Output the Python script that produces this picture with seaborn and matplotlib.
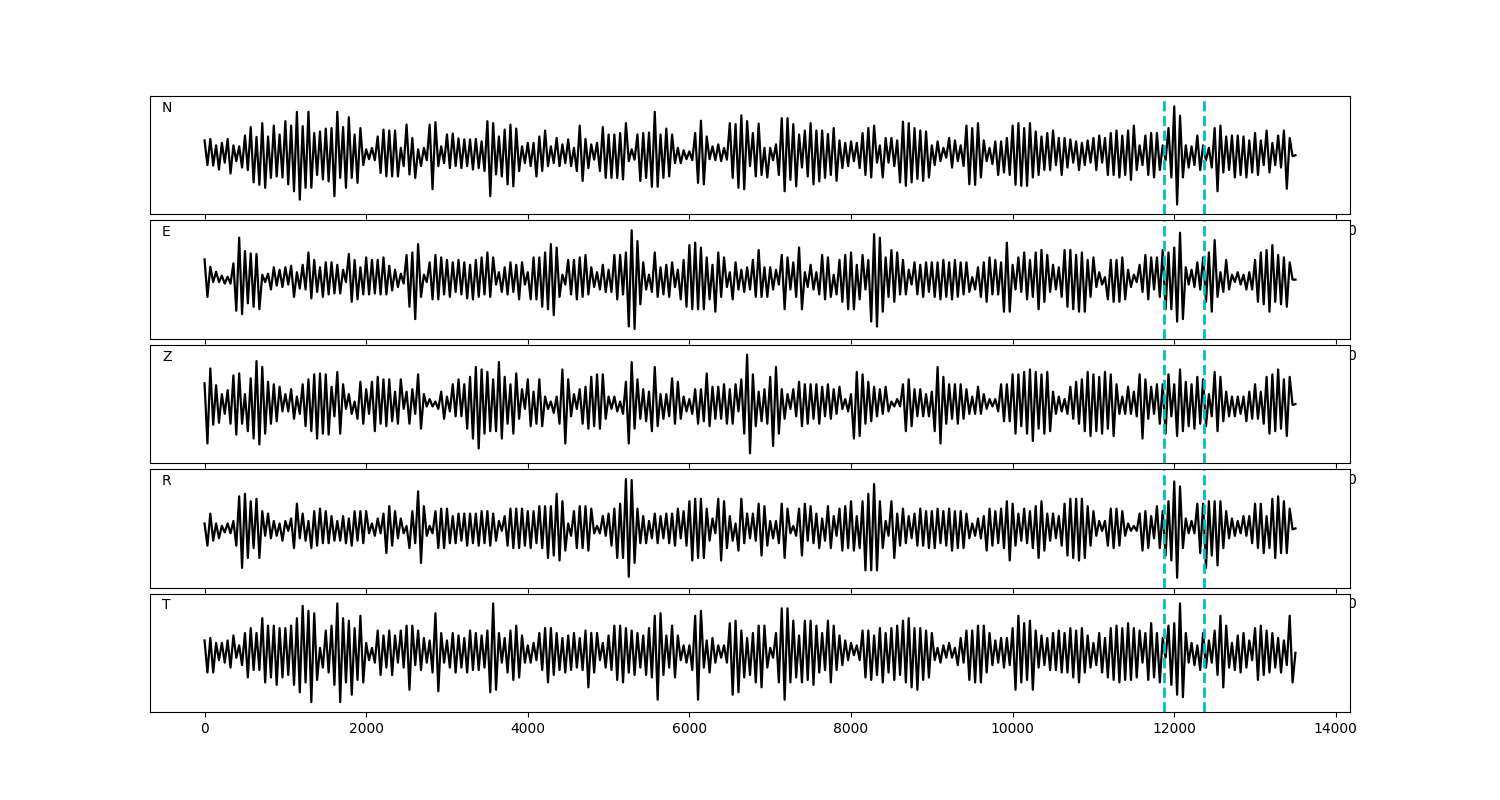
import numpy as np
import matplotlib
matplotlib.use('Agg')
import matplotlib.pyplot as plt
import seaborn as sns

# Component names, record length and the picked window (samples)
components = ['N', 'E', 'Z', 'R', 'T']
t_end = 13500
pick_window = [11870, 12370]

# Successive peak / trough amplitudes (percent of max),
# one row per 500 samples
trace_n = [
    30, -20, 33, -21, 20, -29, 25, -15, 33, -37, 20, -12, 18, -25,
    40, -30, 57, -55, 37, -60, 65, -66, 38, -46, 60, -43, 42, -45,
    69, -59, 60, -73, 88, -90, 59, -66, 88, -66, 45, -40, 48, -49,
    54, -53, 55, -83, 88, -46, 57, -66, 77, -46, 42, -56, 55, -20,
    12, -8, 15, -10, 38, -36, 52, -43, 50, -43, 50, -43, 15, -22,
    62, -39, 35, -46, 12, -22, 15, -10, 62, -69, 67, -22, 18, -16,
    42, -26, 44, -22, 34, -26, 32, -22, 32, -29, 33, -26, 28, -32,
    69, -83, 65, -39, 38, -43, 52, -59, 62, -63, 54, -32, 18, -16,
    25, -22, 25, -43, 38, -32, 50, -22, 18, -16, 35, -22, 22, -16,
    32, -22, 15, -32, 60, -52, 33, -26, 22, -9, 25, -32, 57, -46,
    42, -46, 42, -46, 45, -49, 65, -12, 12, -9, 42, -52, 45, -46,
    46, -64, 88, -64, 42, -46, 54, -43, 42, -16, 15, -16, 10, -8,
    8, -10, 45, -56, 70, -59, 38, -8, 18, -10, 22, -12, 15, -9,
    65, -46, 63, -66, 81, -69, 69, -22, 45, -43, 64, -40, 15, -45,
    15, -10, 22, -40, 75, -73, 75, -50, 63, -63, 42, -25, 50, -43,
    65, -59, 50, -53, 50, -46, 43, -40, 55, -52, 30, -26, 25, -22,
    28, -12, 25, -26, 45, -40, 55, -45, 60, -15, 20, -45, 35, -15,
    35, -22, 30, -55, 68, -62, 65, -55, 55, -48, 50, -52, 48, -45,
    20, -20, 28, -12, 15, -5, 35, -25, 30, -12, 20, -22, 60, -59,
    55, -60, 65, -45, 30, -12, 15, -18, 28, -40, 28, -35, 35, -40,
    60, -60, 65, -62, 55, -62, 65, -45, 48, -40, 38, -30, 45, -30,
    50, -20, 35, -40, 35, -25, 32, -15, 28, -30, 25, -20, 30, -15,
    35, -30, 40, -15, 35, -40, 45, -40, 50, -45, 40, -40, 50, -50,
    60, -30, 20, -20, 40, -40, 45, -45, 45, -30, 20, -10, 55, -45,
    99, -100, 80, -45, 20, -25, 18, -20, 40, -30, 20, -10, 15, -25,
    55, -73, 60, -35, 38, -30, 40, -45, 40, -40, 38, -45, 30, -35,
    45, -40, 30, -20, 50, -35, 25, -20, 40, -25, 50, -68, 35, -2,
]
trace_e = [
    41, -35, 26, -5, 16, -5, 8, -8, 6, -8, 33, -63, 85, -70,
    58, -48, 53, -55, 52, -60, 10, -5, 12, -20, 25, -12, 20, -15,
    25, -10, 28, -35, 15, -18, 30, -20, 55, -38, 40, -25, 25, -35,
    35, -30, 35, -28, 30, -28, 20, -5, 52, -45, 40, -40, 25, -30,
    45, -30, 40, -28, 40, -30, 45, -30, 28, -22, 20, -15, 12, -8,
    50, -55, 55, -80, 72, -35, 10, -5, 35, -40, 50, -40, 45, -30,
    40, -35, 35, -25, 40, -30, 35, -38, 30, -40, 40, -35, 45, -30,
    55, -35, 45, -10, 15, -25, 25, -30, 35, -25, 30, -40, 35, -10,
    15, -40, 45, -40, 45, -55, 55, -60, 72, -72, 65, -35, 10, -10,
    40, -30, 40, -40, 45, -35, 50, -30, 25, -15, 15, -20, 30, -25,
    20, -25, 50, -40, 50, -30, 55, -95, 100, -100, 78, -50, 35, -20,
    10, -25, 55, -35, 25, -30, 30, -35, 35, -15, 20, -40, 40, -55,
    70, -60, 75, -60, 65, -60, 45, -40, 30, -65, 55, -35, 45, -15,
    15, -40, 35, -20, 20, -25, 25, -20, 40, -35, 60, -35, 25, -35,
    25, -20, 20, -10, 50, -60, 45, -20, 35, -35, 65, -60, 15, -15,
    30, -20, 15, -30, 50, -40, 45, -35, 10, -30, 40, -45, 50, -60,
    55, -60, 30, -40, 50, -20, 40, -85, 92, -95, 85, -65, 45, -35,
    60, -45, 55, -30, 40, -30, 20, -10, 35, -30, 30, -35, 35, -25,
    35, -35, 35, -40, 40, -35, 35, -40, 40, -35, 35, -30, 35, -25,
    5, -20, 25, -35, 35, -45, 45, -30, 40, -30, 35, -65, 75, -65,
    30, -20, 45, -25, 55, -40, 40, -35, 55, -60, 60, -45, 50, -25,
    30, -20, 25, -35, 60, -55, 60, -60, 50, -65, 55, -65, 40, -35,
    45, -15, 15, -10, 5, -40, 40, -45, 40, -45, 45, -40, 20, -15,
    10, -5, 30, -25, 50, -40, 45, -20, 45, -35, 60, -60, 55, -60,
    65, -85, 95, -80, 25, -10, 20, -15, 35, -20, 45, -45, 55, -65,
    80, -35, 15, -25, 40, -20, 10, -5, 15, -10, 10, -20, 15, -20,
    40, -45, 55, -50, 60, -65, 70, -45, 50, -50, 45, -55, 35, 0,
]
trace_z = [
    42, -80, 72, -42, 38, -38, 20, -20, 28, -40, 58, -62, 62, -40,
    20, -55, 52, -70, 87, -82, 75, -60, 45, -40, 40, -35, 35, -15,
    20, -15, 30, -30, 15, -20, 40, -45, 50, -55, 60, -70, 62, -60,
    60, -62, 35, -25, 65, -60, 40, -10, 20, -20, 5, -30, 45, -40,
    30, -20, 45, -55, 55, -40, 50, -45, 50, -35, 25, -40, 50, -10,
    25, -40, 30, -20, 60, -50, 20, -5, 10, -5, 5, -10, 25, -30,
    15, -15, 40, -25, 50, -25, 40, -50, 55, -70, 75, -90, 70, -60,
    65, -55, 50, -55, 85, -70, 55, -40, 40, -60, 62, -30, 30, -10,
    50, -45, 25, -40, 50, -45, 15, -10, 5, -18, 15, -40, 70, -80,
    50, -25, 20, -10, 30, -40, 35, -50, 55, -45, 60, -50, 60, -30,
    15, -10, 15, -15, 5, -20, 45, -80, 85, -50, 50, -30, 30, -35,
    25, -55, 75, -45, 20, -30, 20, -25, 52, -40, 45, -30, 15, -15,
    10, -20, 30, -40, 30, -35, 62, -45, 35, -30, 35, -30, 40, -40,
    30, -40, 40, -15, 50, -60, 100, -100, 60, -45, 25, -35, 30, -40,
    55, -85, 75, -60, 30, -30, 20, -10, 30, -25, 45, -45, 40, -40,
    40, -30, 40, -40, 35, -25, 40, -30, 30, -20, 35, -10, 10, -15,
    20, -70, 65, -65, 60, -40, 45, -35, 35, -25, 30, -20, 35, -15,
    5, -5, 10, -5, 40, -55, 50, -45, 30, -25, 30, -25, 20, -25,
    25, -55, 75, -80, 55, -40, 40, -30, 40, -40, 40, -30, 30, -20,
    15, -20, 35, -20, 20, -10, 10, -5, 10, -15, 40, -35, 40, -35,
    60, -60, 60, -45, 65, -60, 70, -75, 65, -50, 60, -60, 65, -55,
    25, -20, 15, -15, 10, -20, 35, -30, 45, -40, 50, -55, 65, -65,
    60, -55, 55, -60, 65, -50, 60, -65, 40, -20, 15, -20, 35, -20,
    25, -25, 60, -70, 50, -30, 35, -20, 40, -40, 40, -60, 60, -25,
    40, -65, 70, -55, 45, -45, 40, -50, 55, -40, 50, -45, 20, -25,
    65, -55, 55, -35, 25, -25, 15, -25, 15, -20, 15, -35, 25, -30,
    40, -30, 25, -40, 55, -60, 60, -55, 70, -50, 50, -65, 55, -2,
]
trace_r = [
    10, -35, 30, -25, 10, -20, 5, -8, 10, -10, 15, -35, 65, -80,
    70, -60, 55, -40, 60, -60, 35, -15, 30, -20, 15, -15, 10, -25,
    15, -5, 20, -40, 50, -20, 30, -25, 15, -40, 35, -35, 40, -30,
    35, -30, 25, -25, 15, -25, 25, -30, 20, -35, 35, -25, 35, -30,
    35, -10, 10, -15, 20, -10, 30, -50, 45, -35, 35, -20, 20, -10,
    5, -40, 35, -30, 75, -70, 45, -15, 5, -10, 35, -40, 40, -40,
    40, -30, 25, -30, 30, -25, 30, -35, 30, -30, 30, -35, 35, -30,
    35, -35, 30, -25, 15, -5, 25, -35, 40, -40, 40, -40, 40, -35,
    35, -40, 35, -30, 45, -40, 45, -60, 45, -55, 70, -65, 55, -45,
    10, -15, 35, -40, 45, -40, 45, -45, 40, -10, 5, -10, 25, -15,
    30, -35, 40, -60, 50, -60, 100, -98, 98, -70, 40, -30, 25, -30,
    15, -20, 30, -30, 25, -20, 30, -30, 30, -35, 40, -20, 35, -35,
    55, -65, 60, -60, 60, -60, 40, -25, 20, -10, 60, -65, 55, -40,
    25, -25, 10, -45, 60, -30, 30, -20, 30, -25, 50, -55, 45, -35,
    15, -20, 15, -30, 50, -60, 40, -10, 5, -15, 40, -55, 50, -25,
    45, -30, 30, -40, 20, -25, 45, -40, 25, -15, 40, -45, 45, -40,
    55, -45, 25, -40, 55, -85, 70, -85, 90, -85, 55, -40, 15, -15,
    55, -60, 30, -35, 40, -30, 25, -20, 30, -35, 40, -35, 35, -40,
    35, -40, 40, -30, 35, -35, 40, -45, 35, -40, 35, -40, 30, -20,
    10, -15, 20, -20, 25, -45, 40, -35, 35, -30, 40, -40, 55, -65,
    50, -35, 30, -25, 40, -30, 35, -40, 45, -60, 55, -45, 30, -25,
    30, -20, 25, -35, 50, -55, 60, -60, 60, -65, 60, -60, 45, -35,
    35, -15, 15, -5, 15, -35, 40, -40, 40, -35, 35, -15, 10, -5,
    5, -5, 30, -45, 35, -40, 25, -20, 45, -40, 35, -55, 55, -65,
    95, -100, 85, -40, 20, -10, 15, -10, 50, -50, 50, -80, 55, -55,
    55, -75, 55, -40, 35, -20, 20, -15, 15, -10, 25, -15, 25, -30,
    50, -40, 50, -50, 25, -40, 60, -60, 65, -50, 55, -50, 40, -2,
]
trace_t = [
    25, -40, 30, -40, 20, -15, 20, -20, 25, -30, 35, -10, 15, -25,
    40, -50, 50, -35, 40, -35, 70, -60, 55, -50, 55, -65, 50, -50,
    50, -45, 55, -65, 70, -80, 95, -60, 85, -100, 80, -55, 10, -30,
    45, -40, 55, -65, 100, -100, 70, -60, 65, -85, 50, -55, 75, -60,
    20, -15, 10, -20, 45, -45, 35, -30, 45, -45, 35, -20, 45, -30,
    55, -75, 55, -25, 45, -35, 30, -20, 25, -40, 80, -78, 40, -20,
    25, -30, 40, -40, 35, -30, 30, -40, 45, -35, 40, -35, 35, -30,
    45, -80, 100, -75, 40, -20, 30, -40, 45, -55, 55, -50, 35, -20,
    15, -20, 20, -15, 40, -35, 50, -60, 50, -45, 40, -35, 30, -40,
    35, -35, 40, -30, 30, -35, 45, -70, 40, -40, 40, -15, 20, -30,
    35, -35, 55, -55, 55, -60, 50, -40, 45, -45, 40, -30, 35, -45,
    50, -50, 75, -95, 80, -45, 35, -30, 55, -50, 35, -15, 15, -20,
    15, -35, 75, -95, 85, -30, 25, -40, 30, -20, 15, -10, 15, -20,
    60, -85, 65, -80, 45, -50, 30, -45, 40, -60, 55, -70, 55, -30,
    10, -10, 40, -60, 90, -95, 90, -60, 65, -50, 35, -60, 65, -55,
    65, -65, 55, -40, 40, -35, 65, -60, 55, -35, 35, -25, 25, -15,
    20, -5, 15, -15, 45, -50, 45, -55, 35, -45, 50, -60, 40, -40,
    50, -55, 55, -45, 65, -60, 70, -70, 50, -75, 50, -55, 45, -50,
    40, -15, 10, -20, 15, -10, 20, -10, 10, -25, 30, -20, 45, -55,
    45, -60, 55, -60, 55, -40, 40, -25, 25, -20, 30, -30, 30, -25,
    50, -75, 75, -60, 60, -55, 65, -75, 45, -30, 35, -25, 30, -35,
    40, -35, 45, -40, 40, -40, 50, -50, 45, -60, 50, -40, 35, -30,
    20, -25, 40, -40, 30, -50, 50, -55, 55, -60, 50, -55, 60, -55,
    50, -50, 45, -20, 40, -55, 60, -50, 40, -60, 30, -10, 55, -65,
    60, -85, 100, -90, 40, -20, 20, -25, 15, -35, 40, -30, 25, -20,
    45, -45, 75, -70, 55, -30, 20, -35, 35, -40, 40, -30, 25, -15,
    50, -55, 55, -45, 45, -40, 40, -30, 30, -40, 25, -25, 75, -60,
]


def plot_components(traces):
    """
    Stacks the five component traces in separate panels and marks the
    picked window with two dashed cyan lines.
    """
    fig, axes = plt.subplots(len(traces), 1, figsize=(15, 8))
    fig.subplots_adjust(left=0.1, right=0.9, top=0.88, bottom=0.11, hspace=0.05)

    for ax, name, vals in zip(axes, components, traces):
        amp = np.array(vals + [0], dtype=float)
        t = np.linspace(0, t_end, len(amp))
        sns.lineplot(x=t, y=amp, ax=ax, color='k', linewidth=1.6,
                     sort=False, estimator=None)
        for xv in pick_window:
            ax.axvline(xv, color='c', linestyle='--', linewidth=2)
        ax.set_ylim(-120, 120)
        ax.set_yticks([])
        ax.text(0.01, 0.9, name, transform=ax.transAxes, ha='left', va='center')

    fig.savefig('out.png', dpi=100)


plot_components([trace_n, trace_e, trace_z, trace_r, trace_t])
